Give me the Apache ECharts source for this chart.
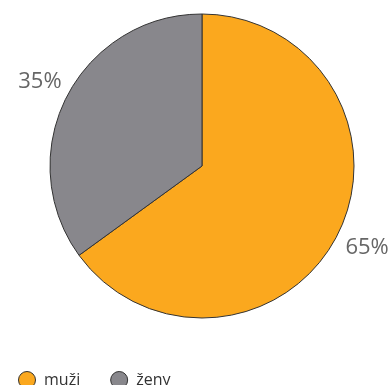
<!DOCTYPE html>
<html>
<head>
<meta charset="utf-8">
<script src="https://cdn.jsdelivr.net/npm/echarts@6/dist/echarts.min.js"></script>
<style>
  html, body { margin: 0; padding: 0; background: #fff; }
  #chart { width: 392px; height: 385px; }
</style>
</head>
<body>
<div id="chart"></div>
<script>
// Share of men and women
const categories = ['muži', 'ženy'];
const shares = [65, 35];
const colors = ['#FBA81E', '#88878C'];
const labelOffsets = [[3, 13], [0, -15]];

const chart = echarts.init(document.getElementById('chart'), null, { renderer: 'canvas' });

chart.setOption({
  animation: false,
  legend: {
    left: 13,
    top: 366,
    icon: 'circle',
    itemWidth: 18,
    itemHeight: 17,
    itemGap: 30,
    data: categories,
    itemStyle: { borderColor: '#333', borderWidth: 1 },
    textStyle: {
      fontFamily: 'Open Sans',
      fontSize: 16,
      color: '#333',
      padding: [0, 0, 0, 3]
    }
  },
  series: [{
    type: 'pie',
    center: [202, 166],
    radius: 152,
    startAngle: 90,
    clockwise: true,
    itemStyle: { borderColor: '#333', borderWidth: 1 },
    label: {
      show: true,
      position: 'outside',
      formatter: '{c}%',
      fontFamily: 'Open Sans',
      fontSize: 22,
      color: '#666',
      overflow: 'none'
    },
    labelLine: { show: false, length: 0, length2: 0 },
    emphasis: { disabled: true },
    data: categories.map((name, i) => ({
      name: name,
      value: shares[i],
      itemStyle: { color: colors[i] },
      label: { offset: labelOffsets[i] }
    }))
  }]
});
</script>
</body>
</html>
